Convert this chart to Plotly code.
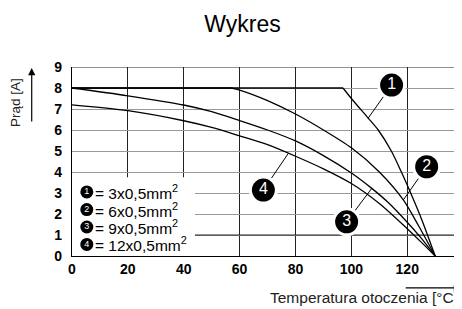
import plotly.graph_objects as go

# ---- data ----
temps_1 = [0, 97, 100, 105.8, 109.6, 114.3, 117.9, 121.5, 125, 130]
amps_1 = [8, 8, 7.5, 6.6, 6.0, 5.0, 4.0, 2.92, 1.8, 0]

temps_2 = [0, 57, 60, 70, 80, 90, 100, 110, 118.6, 124, 130]
amps_2 = [8, 8, 7.9, 7.4, 6.76, 6.0, 5.15, 4.0, 2.67, 1.45, 0]

temps_3 = [0, 20, 40, 50, 60, 70, 80, 90, 100, 107.3, 113, 119, 125, 130]
amps_3 = [8.0, 7.63, 7.19, 6.87, 6.45, 6.0, 5.48, 4.78, 3.95, 3.22, 2.57, 1.75, 0.85, 0]

temps_4 = [0, 20, 40, 50, 60, 70, 80, 90, 100, 110, 120, 125, 130]
amps_4 = [7.2, 6.92, 6.44, 6.12, 5.72, 5.3, 4.75, 4.15, 3.45, 2.5, 1.3, 0.66, 0]

curve_ids = ["1", "2", "3", "4"]
legend_texts = ["= 3x0,5mm<sup>2</sup>", "= 6x0,5mm<sup>2</sup>",
                "= 9x0,5mm<sup>2</sup>", "= 12x0,5mm<sup>2</sup>"]

x_ticks = [0, 20, 40, 60, 80, 100, 120]
y_ticks = [0, 1, 2, 3, 4, 5, 6, 7, 8, 9]
dark_grid_y = [1, 9]

X_MAX = 139.6
LEGEND_BOX_X = 44
LEGEND_BOX_Y = 3.75

# label badges: centre and point on the curve they refer to
label_x = [114.4, 126.95, 98.3, 68.5]
label_y = [8.14, 4.25, 1.63, 3.14]
target_x = [106.0, 118.6, 107.3, 77.4]
target_y = [6.56, 2.67, 3.22, 4.88]

legend_marker_x = 5.3
legend_text_x = 7.4
legend_y = [3.05, 2.21, 1.38, 0.55]

FONT = "Liberation Sans, Arial, sans-serif"

fig = go.Figure()

# darker horizontal gridlines
for gy in dark_grid_y:
    fig.add_trace(go.Scatter(x=[0, X_MAX], y=[gy, gy], mode="lines",
                             line=dict(color="#222", width=1), cliponaxis=False,
                             hoverinfo="skip", showlegend=False))

# white legend box covering the grid
fig.add_trace(go.Scatter(x=[0, LEGEND_BOX_X, LEGEND_BOX_X, 0, 0],
                         y=[0, 0, LEGEND_BOX_Y, LEGEND_BOX_Y, 0],
                         mode="lines", fill="toself", fillcolor="white",
                         line=dict(width=0, color="white"),
                         hoverinfo="skip", showlegend=False))

line_style = dict(color="black", width=1.3)

# curves with a flat plateau: flat part straight, falling part smooth
for t, a in [(temps_1, amps_1), (temps_2, amps_2)]:
    fig.add_trace(go.Scatter(x=t[:2], y=a[:2], mode="lines", line=line_style,
                             hoverinfo="skip", showlegend=False))
    fig.add_trace(go.Scatter(x=t[1:], y=a[1:], mode="lines",
                             line=dict(**line_style, shape="spline", smoothing=0.8),
                             hoverinfo="skip", showlegend=False))
for t, a in [(temps_3, amps_3), (temps_4, amps_4)]:
    fig.add_trace(go.Scatter(x=t, y=a, mode="lines",
                             line=dict(**line_style, shape="spline", smoothing=0.8),
                             hoverinfo="skip", showlegend=False))

# leader lines
for lx, ly, tx, ty in zip(label_x, label_y, target_x, target_y):
    fig.add_trace(go.Scatter(x=[lx, tx], y=[ly, ty], mode="lines",
                             line=dict(color="black", width=1),
                             hoverinfo="skip", showlegend=False))

# label badges
fig.add_trace(go.Scatter(x=label_x, y=label_y, mode="markers+text",
                         text=curve_ids, textposition="middle center",
                         textfont=dict(color="white", size=16, family=FONT),
                         marker=dict(size=26, color="black", line=dict(color="white", width=3)),
                         hoverinfo="skip", showlegend=False))

# legend badges
fig.add_trace(go.Scatter(x=[legend_marker_x] * 4, y=legend_y, mode="markers+text",
                         text=curve_ids, textposition="middle center",
                         textfont=dict(color="white", size=9, family=FONT),
                         marker=dict(size=13, color="black"),
                         hoverinfo="skip", showlegend=False))

for ty, txt in zip(legend_y, legend_texts):
    fig.add_annotation(x=legend_text_x, y=ty, xref="x", yref="y", text=txt,
                       showarrow=False, xanchor="left", yanchor="middle",
                       font=dict(size=15.5, color="black", family=FONT))

# axis titles and arrows
fig.add_annotation(xref="paper", yref="paper", x=0.996, y=-0.222, text="Temperatura otoczenia [°C]",
                   showarrow=False, xanchor="right", yanchor="middle",
                   font=dict(size=15.5, color="#222", family=FONT))
fig.add_annotation(xref="paper", yref="paper", x=0.998, y=-0.169, ax=-57, ay=0.01, text="",
                   axref="pixel", ayref="pixel",
                   showarrow=True, arrowhead=2, arrowsize=1.2, arrowwidth=1.2, arrowcolor="black")
fig.add_annotation(xref="paper", yref="paper", x=-0.1436, y=0.815, text="Prąd [A]",
                   textangle=-90, showarrow=False, xanchor="center", yanchor="middle",
                   font=dict(size=13.5, color="#222", family=FONT))
fig.add_annotation(xref="paper", yref="paper", x=-0.1033, y=0.995, ax=0.01, ay=55, text="",
                   axref="pixel", ayref="pixel",
                   showarrow=True, arrowhead=2, arrowsize=1.2, arrowwidth=1.2, arrowcolor="black")

# the page body has an 8px default margin, so the figure is laid out 8px smaller
fig.update_layout(
    width=454, height=301,
    margin=dict(l=64, r=0, t=59, b=53),
    paper_bgcolor="white", plot_bgcolor="white",
    title=dict(text="Wykres", x=0.5165, xanchor="center", y=0.947, yanchor="middle",
               yref="container", font=dict(size=23, color="black", family=FONT)),
    xaxis=dict(range=[0, X_MAX], tickvals=x_ticks, showgrid=True, gridcolor="#222", gridwidth=1,
               zeroline=False, showline=True, linecolor="black", linewidth=1.2, ticks="",
               tickfont=dict(size=14, color="black", family=FONT, weight="bold")),
    yaxis=dict(range=[0, 9], tickvals=y_ticks, showgrid=True, gridcolor="#999", gridwidth=1,
               zeroline=False, showline=True, linecolor="black", linewidth=1.2, ticks="",
               ticklabelstandoff=6,
               tickfont=dict(size=14, color="black", family=FONT, weight="bold")),
)

fig.write_html("out.html")
